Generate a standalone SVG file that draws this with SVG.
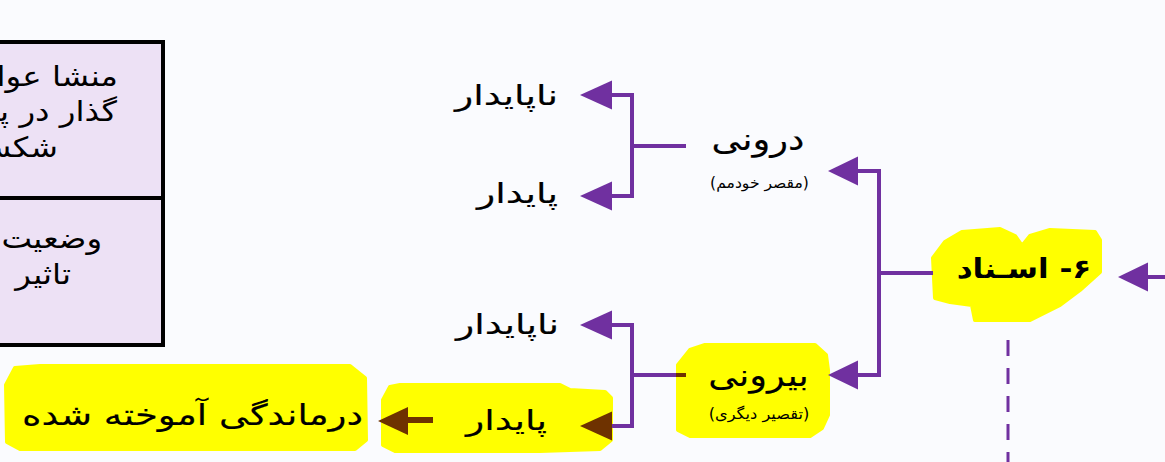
<svg xmlns="http://www.w3.org/2000/svg" width="1165" height="462" viewBox="0 0 1165 462">
<defs>
<style>
text{font-family:"DejaVu Sans","Noto Sans",sans-serif;fill:#000;direction:rtl}
.lbl{font-size:28px;text-anchor:middle;stroke:#000;stroke-width:0.15}
.big{font-size:31px;text-anchor:middle;stroke:#000;stroke-width:0.15}
.sub{font-size:15px;text-anchor:middle}
.box{font-size:28px;text-anchor:start}
.hl{fill:#ffff00;stroke:#ffff00;stroke-width:4;stroke-linejoin:round}
.pl{fill:none;stroke:#7030a0;stroke-width:4}
.pa{fill:#7030a0}
.br{fill:#6e3200}
</style>
</defs>
<rect width="1165" height="462" fill="#fafbfe"/>
<g id="table">
<rect x="-10" y="42" width="173" height="303" fill="#ede1f5" stroke="#000" stroke-width="4"/>
<line x1="-10" y1="198" x2="163" y2="198" stroke="#000" stroke-width="4"/>
<g transform="scale(1.16,1)">
<text class="box" x="101.7" y="86">منشا عوامل</text>
<text class="box" x="100.9" y="121">گذار در پیدایش</text>
<text class="box" x="50" y="157">شکست</text>
<text class="box" x="88" y="248">وضعیت</text>
<text class="box" x="61.2" y="284">تاثیر</text>
</g>
</g>
<g id="highlights">
<path class="hl" d="M933,258 L945,242 L962,232 L1000,229 L1015,236 L1022,246 L1030,236 L1050,230 L1095,232 L1100,240 L1100,272 L1080,290 L1060,305 L1030,320 L975,320 L972,305 L950,302 L935,298 Z"/>
<path class="hl" d="M678,365 L690,350 L705,345 L815,345 L826,355 L828,370 L828,415 L822,428 L810,436 L690,436 L678,430 Z"/>
<path class="hl" d="M383,400 L390,387 L400,385 L560,385 L570,390 L605,392 L611,398 L611,440 L600,449 L540,451 L395,451 L383,445 Z"/>
<path class="hl" d="M6,385 L15,368 L40,366 L350,366 L365,378 L366,440 L355,449 L20,449 L7,442 Z"/>
</g>
<g id="connectors">
<path class="pl" d="M686,146 H632 M612,95 H632 V196 H612"/>
<polygon class="pa" points="580,95 612,80.5 612,109.5"/>
<polygon class="pa" points="580,196 612,181.5 612,210.5"/>
<path class="pl" d="M677,375 H632 M612,325 H632 V426 H612"/>
<line x1="676" y1="375" x2="686" y2="375" stroke="#6e3200" stroke-width="4"/>
<polygon class="pa" points="580,325 612,310.5 612,339.5"/>
<polygon class="br" points="580,426 612,411.5 612,440.5"/>
<path class="pl" d="M933,273 H879 M858,171 H879 V375 H858"/>
<polygon class="pa" points="828,171 858,156.5 858,185.5"/>
<polygon class="pa" points="828,375 858,360.5 858,389.5"/>
<path class="pl" d="M1148,277 H1170"/>
<polygon class="pa" points="1118,277 1148,262.5 1148,291.5"/>
<line x1="1008" y1="340" x2="1008" y2="462" stroke="#7030a0" stroke-width="3" stroke-dasharray="16 12"/>
<line x1="405" y1="420" x2="433" y2="420" stroke="#6e3200" stroke-width="6"/>
<polygon class="br" points="378,421 408,407 408,435"/>
</g>
<g id="n-asnad"><text transform="translate(1024,278) scale(1.15,1)" class="lbl" style="font-weight:bold;font-size:27px;stroke-width:0">۶- اسـناد</text></g>
<g id="n-darooni"><text transform="translate(758,150) scale(1.19,1)" class="big">درونی</text><text transform="translate(759.5,188) scale(1.04,1)" class="sub">(مقصر خودمم)</text></g>
<g id="n-birooni"><text transform="translate(758.5,386) scale(1.19,1)" class="big">بیرونی</text><text transform="translate(759,419) scale(1.08,1)" class="sub">(تقصیر دیگری)</text></g>
<g id="n-napaydar1"><text transform="translate(506.5,105) scale(1.35,1)" class="lbl">ناپایدار</text></g>
<g id="n-paydar1"><text transform="translate(517.5,203) scale(1.35,1)" class="lbl">پایدار</text></g>
<g id="n-napaydar2"><text transform="translate(507.5,334) scale(1.35,1)" class="lbl">ناپایدار</text></g>
<g id="n-paydar2"><text transform="translate(506.5,430) scale(1.35,1)" class="lbl">پایدار</text></g>
<g id="n-darmandegi"><text transform="translate(192.5,425) scale(1.28,1)" class="lbl" style="font-size:29px">درماندگی آموخته شده</text></g>
</svg>
